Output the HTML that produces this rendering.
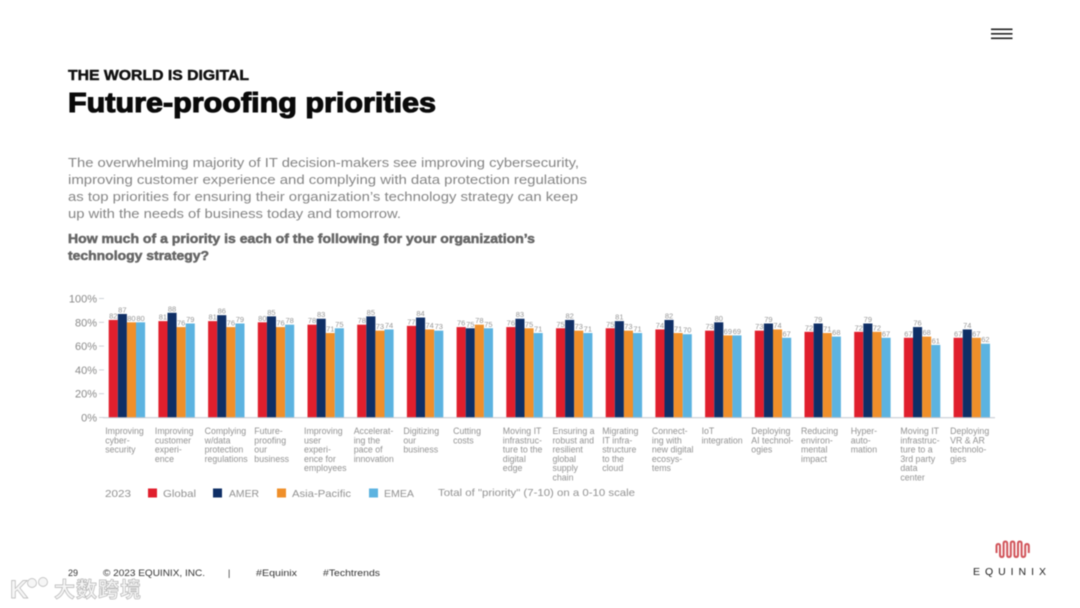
<!DOCTYPE html>
<html lang="en">
<head>
<meta charset="utf-8">
<title>Future-proofing priorities</title>
<style>
html,body{margin:0;padding:0;background:#fff;}
body{width:1080px;height:608px;overflow:hidden;}
svg{display:block;filter:blur(0.45px);font-family:"Liberation Sans","Noto Sans CJK SC",sans-serif;}
</style>
</head>
<body>
<svg id="slide" width="1080" height="608" viewBox="0 0 1080 608" xmlns="http://www.w3.org/2000/svg">
  <rect width="1080" height="608" fill="#fff"/>

  <g fill="#222">
    <rect x="991" y="28.5" width="21.5" height="1.6"/>
    <rect x="991" y="33" width="21.5" height="1.6"/>
    <rect x="991" y="37.5" width="21.5" height="1.6"/>
  </g>

  <text x="68" y="80" font-size="14.5" font-weight="700" fill="#111" stroke="#111" stroke-width="0.45" textLength="181" lengthAdjust="spacingAndGlyphs">THE WORLD IS DIGITAL</text>
  <text x="68" y="112" font-size="28" font-weight="700" fill="#0a0a0a" stroke="#0a0a0a" stroke-width="1.1" textLength="368" lengthAdjust="spacingAndGlyphs">Future-proofing priorities</text>

  <g font-size="13.2" fill="#858585">
    <text x="68" y="167" textLength="511" lengthAdjust="spacingAndGlyphs">The overwhelming majority of IT decision-makers see improving cybersecurity,</text>
    <text x="68" y="184" textLength="519" lengthAdjust="spacingAndGlyphs">improving customer experience and complying with data protection regulations</text>
    <text x="68" y="201" textLength="510" lengthAdjust="spacingAndGlyphs">as top priorities for ensuring their organization’s technology strategy can keep</text>
    <text x="68" y="218" textLength="333" lengthAdjust="spacingAndGlyphs">up with the needs of business today and tomorrow.</text>
  </g>
  <g font-size="13" font-weight="700" fill="#666" stroke="#666" stroke-width="0.5">
    <text x="68" y="243" textLength="467" lengthAdjust="spacingAndGlyphs">How much of a priority is each of the following for your organization’s</text>
    <text x="68" y="260" textLength="141" lengthAdjust="spacingAndGlyphs">technology strategy?</text>
  </g>

  <g id="chart"></g>

  <g font-size="10.5" fill="#929292">
    <text x="105" y="497" textLength="26" lengthAdjust="spacingAndGlyphs">2023</text>
    <g>
      <rect x="148" y="488.5" width="9" height="9" fill="#e01f2d"/>
      <text x="163" y="497" textLength="33" lengthAdjust="spacingAndGlyphs">Global</text>
    </g>
    <g>
      <rect x="213" y="488.5" width="9" height="9" fill="#0f2f66"/>
      <text x="229" y="497" textLength="30" lengthAdjust="spacingAndGlyphs">AMER</text>
    </g>
    <g>
      <rect x="277" y="488.5" width="9" height="9" fill="#ef8f2a"/>
      <text x="292" y="497" textLength="59" lengthAdjust="spacingAndGlyphs">Asia-Pacific</text>
    </g>
    <g>
      <rect x="369" y="488.5" width="9" height="9" fill="#5cb3e0"/>
      <text x="384" y="497" textLength="30" lengthAdjust="spacingAndGlyphs">EMEA</text>
    </g>
    <text x="438" y="496" textLength="197" lengthAdjust="spacingAndGlyphs">Total of "priority" (7-10) on a 0-10 scale</text>
  </g>

  <g font-size="9" fill="#333">
    <text x="68" y="576">29</text>
    <text x="103" y="576" textLength="102" lengthAdjust="spacingAndGlyphs">© 2023 EQUINIX, INC.</text>
    <text x="228" y="576">|</text>
    <text x="256" y="576" textLength="41" lengthAdjust="spacingAndGlyphs">#Equinix</text>
    <text x="323" y="576" textLength="57" lengthAdjust="spacingAndGlyphs">#Techtrends</text>
  </g>

  <g>
    <path d="M996.5 553V546Q996.5 544 998.3 544T1000 546V555Q1000 557 1001.8 557T1003.6 555V543.5Q1003.6 541.5 1005.4 541.5T1007.2 543.5V555Q1007.2 557 1009 557T1010.8 555V543.5Q1010.8 541.5 1012.6 541.5T1014.4 543.5V555Q1014.4 557 1016.2 557T1018 555V543.5Q1018 541.5 1019.8 541.5T1021.6 543.5V555Q1021.6 557 1023.4 557T1025.2 555V546Q1025.2 544 1027 544T1028.8 546V553" fill="none" stroke="#d1545a" stroke-width="2"/>
    <text x="973" y="575" font-size="10.5" fill="#222" textLength="73" lengthAdjust="spacing">EQUINIX</text>
  </g>

  <g fill="#f6f6f6" stroke="#b5b5b5" stroke-width="0.7">
    <text x="10" y="598" font-size="25" font-weight="700">K</text>
    <circle cx="32" cy="583" r="4.5"/>
    <circle cx="43" cy="582" r="4.5"/>
    <text x="54" y="597" font-size="21" font-weight="700" textLength="87" lengthAdjust="spacing">大数跨境</text>
  </g>
</svg>
<script>
const categories = [
  ["Improving","cyber-","security"],
  ["Improving","customer","experi-","ence"],
  ["Complying","w/data","protection","regulations"],
  ["Future-","proofing","our","business"],
  ["Improving","user","experi-","ence for","employees"],
  ["Accelerat-","ing the","pace of","innovation"],
  ["Digitizing","our","business"],
  ["Cutting","costs"],
  ["Moving IT","infrastruc-","ture to the","digital","edge"],
  ["Ensuring a","robust and","resilient","global","supply","chain"],
  ["Migrating","IT infra-","structure","to the","cloud"],
  ["Connect-","ing with","new digital","ecosys-","tems"],
  ["IoT","integration"],
  ["Deploying","AI technol-","ogies"],
  ["Reducing","environ-","mental","impact"],
  ["Hyper-","auto-","mation"],
  ["Moving IT","infrastruc-","ture to a","3rd party","data","center"],
  ["Deploying","VR & AR","technolo-","gies"]
];
const seriesNames = ["global","amer","asia-pacific","emea"];
const globalValues = [82,81,81,80,78,78,77,76,76,75,75,74,73,73,72,72,67,67];
const amerValues = [87,88,86,85,83,85,84,75,83,82,81,82,80,79,79,79,76,74];
const asiaPacificValues = [80,76,76,76,71,73,74,78,75,73,73,71,69,74,71,72,68,67];
const emeaValues = [80,79,79,78,75,74,73,75,71,71,71,70,69,67,68,67,61,62];
const yTickValues = [0,20,40,60,80,100];

const NS = "http://www.w3.org/2000/svg";
const chart = document.getElementById("chart");
const allSeries = [globalValues, amerValues, asiaPacificValues, emeaValues];
const seriesColors = ["#e01f2d","#0f2f66","#ef8f2a","#5cb3e0"];
const plotBottom = 417.5, plotTop = 298.5, firstBand = 108.7, bandStep = 49.7, barWidth = 9.1;

function yScale(v){ return plotBottom - (v / 100) * (plotBottom - plotTop); }
function xScale(c, s){ return firstBand + c * bandStep + s * barWidth; }
function make(tag, attrs){
  const el = document.createElementNS(NS, tag);
  for (const k in attrs) el.setAttribute(k, attrs[k]);
  chart.appendChild(el);
  return el;
}

yTickValues.forEach(function(t){
  const y = yScale(t);
  const tick = make("rect", {x:99, y:y-0.4, width:5, height:0.8, fill:"#c3c7cf"});
  
  
  const label = make("text", {x:97, y:y+4, "text-anchor":"end", "font-size":11, fill:"#8a8a8a"});
  
  
  label.textContent = t + "%";
});

allSeries.forEach(function(values, s){
  values.forEach(function(v, c){
    const x = xScale(c, s), y = yScale(v);
    const bar = make("rect", {x:x, y:y, width:barWidth, height:plotBottom - y, fill:seriesColors[s]});
    
    
    const val = make("text", {x:x + barWidth / 2, y:y - 1.5, "text-anchor":"middle", "font-size":7.5, fill:"#959595"});
    
    
    val.textContent = v;
  });
});

const axis = make("rect", {x:103, y:plotBottom - 0.3, width:892, height:1, fill:"#c3c7cf"});



categories.forEach(function(lines, c){
  const label = make("text", {"font-size":8.8, fill:"#929292"});
  
  
  lines.forEach(function(line, i){
    const span = document.createElementNS(NS, "tspan");
    span.setAttribute("x", xScale(c, 0) - 3.5);
    span.setAttribute("y", 434 + i * 9.25);
    span.textContent = line;
    label.appendChild(span);
  });
});
</script>
</body>
</html>
